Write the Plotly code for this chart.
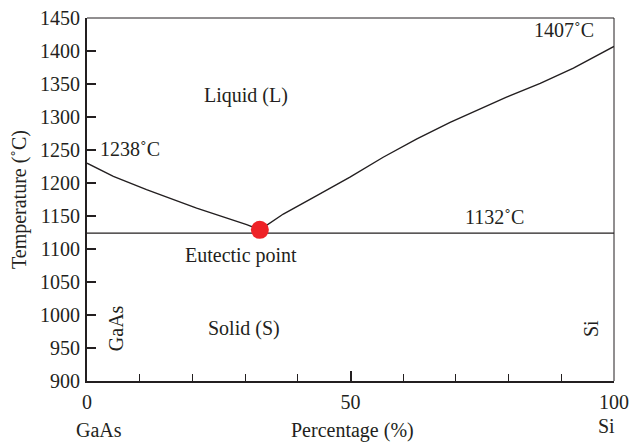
import plotly.graph_objects as go

# Liquidus (GaAs side)
left_x = [0, 5.0, 11.3, 20.8, 30.3, 32.8]
left_T = [1230, 1210, 1190, 1162, 1137, 1129]
# Liquidus (Si side)
right_x = [32.8, 37.25, 43.6, 49.9, 56.2, 62.6, 68.9, 73.3, 79.6, 86.0, 92.3, 100]
right_T = [1129, 1153, 1181, 1209, 1239, 1267, 1292, 1308, 1330, 1351, 1374, 1407]
# Eutectic line and point
eut_line_x = [0, 100]
eut_line_T = [1124, 1124]
eut_x = [32.8]
eut_T = [1129]

x_tickvals = [0, 50, 100]
y_tickvals = [900, 950, 1000, 1050, 1100, 1150, 1200, 1250, 1300, 1350, 1400, 1450]

INK = "#231f20"
FONT = "Liberation Serif"
FS = 20

fig = go.Figure()
fig.add_trace(go.Scatter(x=left_x, y=left_T, mode="lines",
                         line=dict(color=INK, width=1.4), showlegend=False))
fig.add_trace(go.Scatter(x=right_x, y=right_T, mode="lines",
                         line=dict(color=INK, width=1.4), showlegend=False))
fig.add_trace(go.Scatter(x=eut_line_x, y=eut_line_T, mode="lines",
                         line=dict(color=INK, width=1.2), showlegend=False))
fig.add_trace(go.Scatter(x=eut_x, y=eut_T, mode="markers",
                         marker=dict(color="#ee2227", size=18), showlegend=False,
                         cliponaxis=False))

# top and right frame lines (thin)
fig.add_shape(type="line", xref="paper", yref="paper", x0=0, x1=1, y0=1, y1=1,
              line=dict(color=INK, width=1))
fig.add_shape(type="line", xref="paper", yref="paper", x0=1, x1=1, y0=0, y1=1,
              line=dict(color=INK, width=1))

def ann(text, x, y, xref="x", yref="y", angle=0, xanchor="center", yanchor="middle"):
    fig.add_annotation(text=text, x=x, y=y, xref=xref, yref=yref, showarrow=False,
                       textangle=angle, xanchor=xanchor, yanchor=yanchor,
                       font=dict(family=FONT, size=FS, color=INK))

ann("1238˚C", 2.0, 1252, xanchor="left")
ann("Liquid (L)", 30.1, 1333)
ann("1407˚C", 96.6, 1432, xanchor="right")
ann("1132˚C", 83.3, 1148, xanchor="right")
ann("Eutectic point", 29.2, 1090)
ann("Solid (S)", 29.7, 980)
ann("GaAs", 5.5, 980, angle=-90)
ann("Si", 95.6, 980, angle=-90)
# bottom labels
ann("GaAs", 2.3, -0.135, yref="paper")
ann("Percentage (%)", 50.4, -0.135, yref="paper")
ann("Si", 98.5, -0.125, yref="paper")

fig.update_layout(
    width=629, height=442,
    margin=dict(l=87, r=15, t=18, b=61),
    paper_bgcolor="white", plot_bgcolor="white",
    font=dict(family=FONT, size=FS, color=INK),
    xaxis=dict(range=[0, 100], tickvals=x_tickvals, ticks="inside", ticklen=10,
               tickwidth=1.5, tickcolor=INK, showline=True, linewidth=2, linecolor=INK,
               showgrid=False, zeroline=False, automargin=False,
               minor=dict(dtick=10, ticks="inside", ticklen=7, tickwidth=1.3, tickcolor=INK,
                          showgrid=False),
               ticklabelstandoff=2),
    yaxis=dict(range=[900, 1450], tickvals=y_tickvals, ticks="inside", ticklen=9,
               tickwidth=1.5, tickcolor=INK, showline=True, linewidth=2, linecolor=INK,
               showgrid=False, zeroline=False, ticklabelstandoff=1, automargin=False,
               title=dict(text="Temperature (˚C)", standoff=8,
                          font=dict(family=FONT, size=FS, color=INK))),
)

fig.write_html("out.html")
